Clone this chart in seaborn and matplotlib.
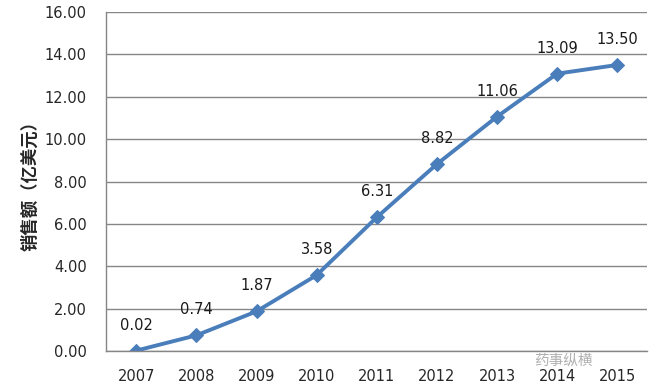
import matplotlib
matplotlib.use('Agg')
import matplotlib.pyplot as plt
import pandas as pd
import seaborn as sns
from matplotlib.ticker import FixedLocator

# Data
years = [2007, 2008, 2009, 2010, 2011, 2012, 2013, 2014, 2015]
sales = [0.02, 0.74, 1.87, 3.58, 6.31, 8.82, 11.06, 13.09, 13.50]

df = pd.DataFrame({'year': years, 'sales': sales})

sns.set_style('white')
plt.rcParams['font.family'] = ['DejaVu Sans', 'Noto Sans CJK SC']

fig = plt.figure(figsize=(6.68, 3.87), dpi=100)
ax = fig.add_axes([0.159, 0.093, 0.810, 0.876])

blue = '#4a7ebb'
sns.lineplot(data=df, x='year', y='sales', ax=ax, color=blue, linewidth=2.8,
             marker='D', markersize=7, markeredgecolor=blue)

for x, y in zip(years, sales):
    ax.annotate(f'{y:.2f}', (x, y), xytext=(0, 13), textcoords='offset points',
                ha='center', va='bottom', fontsize=10.5, color='#1a1a1a')

ax.set_xlim(years[0] - 0.5, years[-1] + 0.5)
ax.set_ylim(0, 16)
ax.set_yticks([0, 2, 4, 6, 8, 10, 12, 14, 16])
ax.set_yticklabels([f'{v:.2f}' for v in range(0, 17, 2)], fontsize=10.5)
ax.set_xticks(years)
ax.set_xticklabels([str(y) for y in years], fontsize=10.5)
ax.xaxis.set_minor_locator(FixedLocator([y - 0.5 for y in years] + [years[-1] + 0.5]))
ax.tick_params(axis='x', which='major', length=0, pad=13)
ax.tick_params(axis='x', which='minor', length=5, color='#868686', width=1)
ax.tick_params(axis='y', length=5, color='#868686', width=1, pad=9)
ax.yaxis.grid(True, color='#868686', linewidth=1)
ax.set_axisbelow(True)

for s in ['top', 'right']:
    ax.spines[s].set_visible(False)
for s in ['left', 'bottom']:
    ax.spines[s].set_color('#868686')
    ax.spines[s].set_linewidth(1)

ax.set_xlabel('')
ax.set_ylabel('销售额（亿美元）', fontsize=12.5, fontweight='bold',
              family=['Noto Sans CJK SC', 'DejaVu Sans'], labelpad=4)

fig.text(0.80, 0.068, '药事纵横', fontsize=10.5, color='#b0b0b0',
         family=['Noto Sans CJK SC', 'DejaVu Sans'], ha='left', va='center')

fig.savefig('out.png', dpi=100)
